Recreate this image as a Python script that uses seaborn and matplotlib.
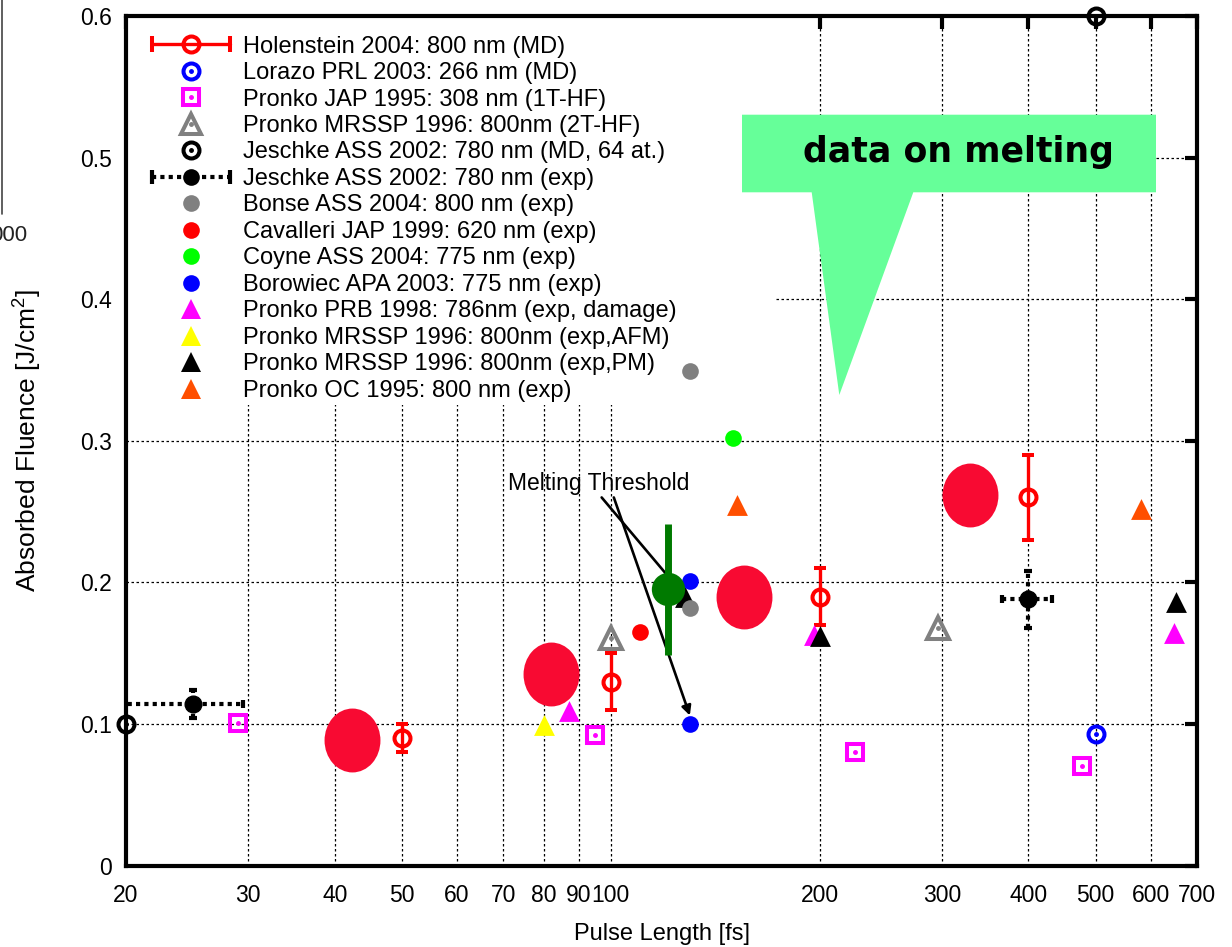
import matplotlib
matplotlib.use("Agg")
import matplotlib.pyplot as plt
import seaborn as sns
from matplotlib.lines import Line2D
from matplotlib.patches import Rectangle, Polygon
from matplotlib.path import Path
from matplotlib.transforms import Affine2D
from matplotlib.legend_handler import HandlerLine2D
from matplotlib.ticker import FixedLocator, FixedFormatter, NullLocator

# ---------------- data: pulse length [fs] vs absorbed fluence [J/cm^2] ----------------
holenstein_x = [50, 100, 200, 400]
holenstein_y = [0.090, 0.130, 0.190, 0.260]
holenstein_err = [0.010, 0.020, 0.020, 0.030]

lorazo_x = [500]
lorazo_y = [0.093]

pronko_jap_x = [29, 95, 225, 478]
pronko_jap_y = [0.101, 0.092, 0.080, 0.070]

pronko_2t_x = [100, 296]
pronko_2t_y = [0.161, 0.168]

jeschke_md_x = [20, 500]
jeschke_md_y = [0.100, 0.600]

jeschke_exp_x = [25, 400]
jeschke_exp_y = [0.114, 0.188]
jeschke_exp_xerr_lo = [6, 33]
jeschke_exp_xerr_hi = [4.5, 33]
jeschke_exp_yerr = [0.010, 0.020]

bonse_x = [130, 130]
bonse_y = [0.349, 0.182]

cavalleri_x = [110]
cavalleri_y = [0.165]

coyne_x = [150]
coyne_y = [0.302]

borowiec_x = [130, 130]
borowiec_y = [0.201, 0.100]

pronko_prb_x = [87, 196, 648]
pronko_prb_y = [0.109, 0.163, 0.164]

pronko_afm_x = [80]
pronko_afm_y = [0.0995]

pronko_pm_x = [128, 200, 652]
pronko_pm_y = [0.190, 0.162, 0.186]

pronko_oc_x = [152, 581]
pronko_oc_y = [0.255, 0.252]

melting_x = [42.4, 82.1, 155.6, 329]
melting_y = [0.089, 0.135, 0.190, 0.262]

threshold_x = [121]
threshold_y = [0.195]
threshold_err = [0.046]

x_ticks = [20, 30, 40, 50, 60, 70, 80, 90, 100, 200, 300, 400, 500, 600, 700]
x_tick_labels = [str(v) for v in x_ticks]
y_ticks = [0, 0.1, 0.2, 0.3, 0.4, 0.5, 0.6]
y_tick_labels = ["0", "0.1", "0.2", "0.3", "0.4", "0.5", "0.6"]

legend_labels = [
    "Holenstein 2004: 800 nm (MD)",
    "Lorazo PRL 2003: 266 nm (MD)",
    "Pronko JAP 1995: 308 nm (1T-HF)",
    "Pronko MRSSP 1996: 800nm (2T-HF)",
    "Jeschke ASS 2002: 780 nm (MD, 64 at.)",
    "Jeschke ASS 2002: 780 nm (exp)",
    "Bonse ASS 2004: 800 nm (exp)",
    "Cavalleri JAP 1999: 620 nm (exp)",
    "Coyne ASS 2004: 775 nm (exp)",
    "Borowiec APA 2003: 775 nm (exp)",
    "Pronko PRB 1998: 786nm (exp, damage)",
    "Pronko MRSSP 1996: 800nm (exp,AFM)",
    "Pronko MRSSP 1996: 800nm (exp,PM)",
    "Pronko OC 1995: 800 nm (exp)",
]

# ---------------- colours ----------------
RED = "#FF0000"
BLUE = "#0000FF"
MAGENTA = "#FF00FF"
GRAY = "#808080"
LIME = "#00FF00"
YELLOW = "#FFFF00"
ORANGE = "#FF4F00"
DKGREEN = "#007A00"
ELLIPSE = "#F80A32"
CALLOUT = "#66FF99"

# ---------------- style ----------------
sns.set_theme(style="white")
plt.rcParams["font.family"] = ["Liberation Sans", "DejaVu Sans"]
plt.rcParams["mathtext.fontset"] = "custom"
plt.rcParams["mathtext.rm"] = "Liberation Sans"
plt.rcParams["mathtext.default"] = "regular"

W, H = 1232, 947
fig = plt.figure(figsize=(W / 100, H / 100), dpi=100)
fig.patch.set_facecolor("white")


def fx(px):
    return px / W


def fy(py):
    return 1 - py / H


AX_L, AX_R, AX_T, AX_B = 126, 1197, 16, 865.6
ax = fig.add_axes([fx(AX_L), fy(AX_B), (AX_R - AX_L) / W, (AX_B - AX_T) / H])
ax.set_facecolor("white")
ax.set_xscale("log")
ax.set_xlim(20, 700)
ax.set_ylim(0, 0.6)
ax.grid(False)

# dotted grid
for xv in x_ticks[1:-1]:
    ax.axvline(xv, color="black", lw=0.9, ls=(0, (2, 2)), zorder=0.5)
for yv in y_ticks[1:-1]:
    ax.axhline(yv, color="black", lw=0.9, ls=(0, (2, 2)), zorder=0.5)

# opaque key area
ax.add_patch(Rectangle((0, 0.542), 0.606, 0.458, transform=ax.transAxes,
                       fc="white", ec="none", zorder=0.8))

MEW = 2.9


def open_points(x, y, marker, color, ms, dot=True, z=3):
    ax.plot(x, y, ls="none", marker=marker, ms=ms, mfc="none", mec=color,
            mew=MEW, zorder=z, clip_on=False)
    if dot:
        ax.plot(x, y, ls="none", marker="o", ms=2.5, color=color, zorder=z,
                clip_on=False)


def filled_points(x, y, marker, color, size, z=3):
    sns.scatterplot(x=x, y=y, marker=marker, s=size ** 2, color=color,
                    linewidth=0, zorder=z, ax=ax, legend=False)


# melting-threshold arrows (beneath the markers)
ax.text(96, 0.270, "Melting Threshold", ha="center", va="center",
        fontsize=16.5, color="black", zorder=2.6)
ax.annotate("", xy=(128, 0.190), xytext=(97, 0.260),
            arrowprops=dict(arrowstyle="-|>", color="black", lw=1.9,
                            shrinkA=0, shrinkB=0, mutation_scale=14),
            zorder=2.6)
ax.annotate("", xy=(130, 0.106), xytext=(101, 0.260),
            arrowprops=dict(arrowstyle="-|>", color="black", lw=1.9,
                            shrinkA=0, shrinkB=0, mutation_scale=14),
            zorder=2.6)

# Holenstein MD with error bars
ax.errorbar(holenstein_x, holenstein_y, yerr=holenstein_err, fmt="o",
            color=RED, mfc="none", mec=RED, mew=MEW, ms=11.5,
            elinewidth=2.4, capsize=4, capthick=MEW, zorder=3)

open_points(lorazo_x, lorazo_y, "o", BLUE, 11.5)
open_points(pronko_jap_x, pronko_jap_y, "s", MAGENTA, 11.5)
open_points(pronko_2t_x, pronko_2t_y, "^", GRAY, 16, dot=True)
open_points(jeschke_md_x, jeschke_md_y, "o", "black", 11.5, z=6)

# Jeschke experiment with dotted x/y error bars
eb = ax.errorbar(jeschke_exp_x, jeschke_exp_y,
                 xerr=[jeschke_exp_xerr_lo, jeschke_exp_xerr_hi],
                 yerr=jeschke_exp_yerr, fmt="o", color="black", ms=12,
                 elinewidth=3, capsize=3, capthick=3, zorder=3)
for lc in eb[2]:
    lc.set_linestyle((0, (1, 1)))

filled_points(pronko_prb_x, pronko_prb_y, "^", MAGENTA, 15)
filled_points(pronko_afm_x, pronko_afm_y, "^", YELLOW, 15)
filled_points(pronko_pm_x, pronko_pm_y, "^", "black", 15)
filled_points(pronko_oc_x, pronko_oc_y, "^", ORANGE, 15)
filled_points(bonse_x, bonse_y, "o", GRAY, 12)
filled_points(cavalleri_x, cavalleri_y, "o", RED, 12)
filled_points(coyne_x, coyne_y, "o", LIME, 12)
filled_points(borowiec_x, borowiec_y, "o", BLUE, 12)

# large melting markers
ellipse = Path.unit_circle().transformed(Affine2D().scale(56 / 64, 1.0))
sns.scatterplot(x=melting_x, y=melting_y, marker=ellipse, s=46 ** 2,
                color=ELLIPSE, linewidth=0, zorder=4, ax=ax, legend=False)

# melting threshold point
ax.errorbar(threshold_x, threshold_y, yerr=threshold_err, fmt="none",
            ecolor=DKGREEN, elinewidth=5, capsize=0, zorder=4.5)
sns.scatterplot(x=threshold_x, y=threshold_y, marker="o", s=24 ** 2,
                color=DKGREEN, linewidth=0, zorder=5, ax=ax, legend=False)

# ---------------- axes ----------------
ax.xaxis.set_major_locator(FixedLocator(x_ticks))
ax.xaxis.set_major_formatter(FixedFormatter(x_tick_labels))
ax.xaxis.set_minor_locator(NullLocator())
ax.set_yticks(y_ticks, y_tick_labels)
ax.tick_params(direction="in", length=9, width=3, top=True, right=True,
               labelsize=16.5, color="black", labelcolor="black")
ax.tick_params(axis="x", pad=13)
ax.tick_params(axis="y", pad=10)
for s in ax.spines.values():
    s.set_visible(True)
    s.set_linewidth(3)
    s.set_color("black")
    s.set_zorder(2.7)

ax.set_xlabel("Pulse Length [fs]", fontsize=17, color="black")
ax.xaxis.set_label_coords(0.5, -0.068)
ax.set_ylabel("Absorbed Fluence [J/cm$^2$]", fontsize=19, color="black")
ax.yaxis.set_label_coords(-0.0765, 0.5)

# ---------------- key ----------------
bar = Line2D([], [], color=RED, lw=2.4, marker="|", ms=11, mew=MEW)
dotbar = Line2D([], [], color="black", lw=3, ls=(0, (1, 1)), marker="|",
                ms=10, mew=3)


def h_open(marker, color, ms, dot=True):
    m = Line2D([], [], ls="none", marker=marker, ms=ms, mfc="none",
               mec=color, mew=MEW)
    if not dot:
        return m
    return (m, Line2D([], [], ls="none", marker="o", ms=2.5, color=color))


def h_fill(marker, color, ms):
    return Line2D([], [], ls="none", marker=marker, ms=ms, color=color,
                  mec=color, mew=0)


handles = [
    (bar, h_open("o", RED, 11.5, dot=False)),
    h_open("o", BLUE, 11.5),
    h_open("s", MAGENTA, 11.5),
    h_open("^", GRAY, 15),
    h_open("o", "black", 11.5),
    (dotbar, h_fill("o", "black", 12)),
    h_fill("o", GRAY, 12),
    h_fill("o", RED, 12),
    h_fill("o", LIME, 12),
    h_fill("o", BLUE, 12),
    h_fill("^", MAGENTA, 15),
    h_fill("^", YELLOW, 15),
    h_fill("^", "black", 15),
    h_fill("^", ORANGE, 15),
]
hmap = {bar: HandlerLine2D(numpoints=2, marker_pad=0),
        dotbar: HandlerLine2D(numpoints=2, marker_pad=0)}
leg = ax.legend(handles, legend_labels, loc="upper left",
                bbox_to_anchor=(0.0243, 0.977), frameon=False, fontsize=17,
                handlelength=3.3, handletextpad=0.55, labelspacing=0.19,
                borderpad=0, borderaxespad=0, handler_map=hmap)
leg.set_zorder(6)
for t in leg.get_texts():
    t.set_color("black")

# ---------------- callout ----------------
callout_px = [(742, 114.7), (1156, 114.7), (1156, 192.3), (913.3, 192.3),
              (839.3, 395), (811.7, 192.3), (742, 192.3)]
fig.add_artist(Polygon([(fx(x), fy(y)) for x, y in callout_px], closed=True,
                       transform=fig.transFigure, fc=CALLOUT, ec="none",
                       zorder=6))
fig.text(fx(958), fy(152), "data on melting", ha="center", va="center",
         fontsize=25, fontweight="bold", family="DejaVu Sans", color="black",
         zorder=7)

# neighbouring panel edge
fig.add_artist(Line2D([fx(1.5), fx(1.5)], [fy(0), fy(214)],
                      transform=fig.transFigure, color="#444444", lw=1.2))
fig.text(fx(27), fy(235), "000", ha="right", va="center", fontsize=16,
         color="#222222")

fig.savefig("out.png", dpi=100)
